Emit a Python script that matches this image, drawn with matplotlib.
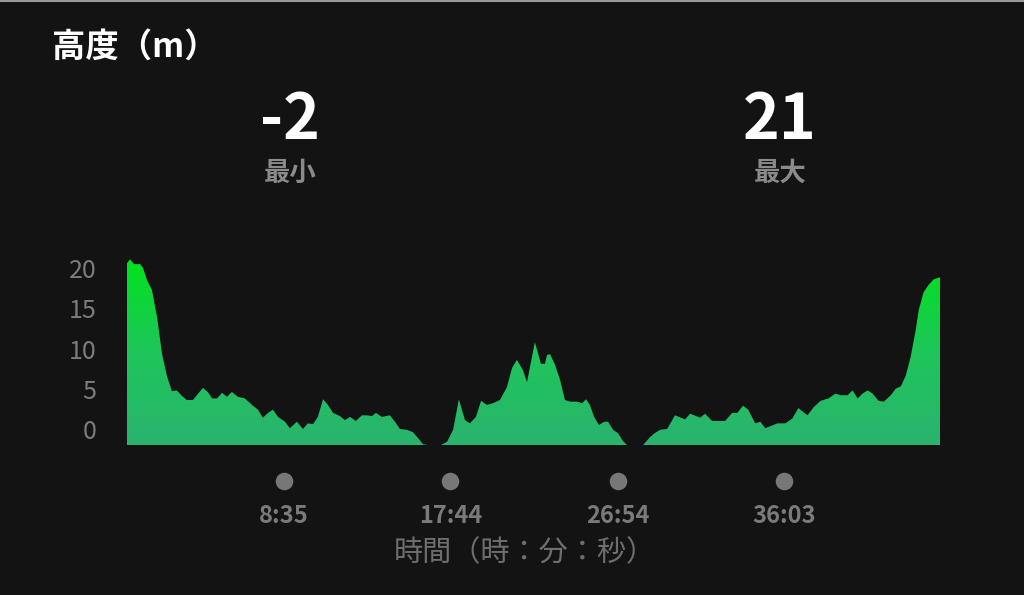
import numpy as np
import matplotlib.pyplot as plt
from matplotlib.colors import LinearSegmentedColormap
from matplotlib.transforms import blended_transform_factory

# elapsed time (seconds) and elevation (m)
secs = [0, 10, 23, 43, 53, 66, 82, 99, 115, 132, 148, 164, 181, 197, 217, 234,
        250, 266, 280, 296, 313, 329, 345, 365, 388, 411, 431, 447, 464, 480,
        497, 520, 536, 559, 579, 595, 612, 628, 645, 661, 678, 701, 717, 734,
        753, 773, 790, 806, 819, 839, 865, 882, 898, 921, 941, 957, 974, 990,
        1013, 1033, 1053, 1073, 1092, 1112, 1128, 1148, 1165, 1184, 1204, 1227,
        1250, 1267, 1283, 1303, 1316, 1342, 1362, 1375, 1382, 1392, 1408, 1425,
        1441, 1458, 1481, 1497, 1510, 1523, 1537, 1553, 1570, 1583, 1599, 1615,
        1632, 1645, 1671, 1698, 1721, 1737, 1754, 1777, 1803, 1836, 1853, 1886,
        1902, 1925, 1968, 1991, 2008, 2027, 2044, 2067, 2084, 2100, 2127, 2140,
        2166, 2189, 2209, 2239, 2259, 2282, 2308, 2331, 2348, 2371, 2387, 2404,
        2420, 2437, 2453, 2473, 2490, 2513, 2529, 2546, 2562, 2578, 2595, 2605,
        2621, 2637, 2654, 2677]
elev = [20.6, 21.1, 20.5, 20.5, 20.0, 18.5, 17.3, 13.9, 9.4, 6.5, 4.7, 4.8, 4.1,
        3.6, 3.6, 4.4, 5.1, 4.6, 3.8, 3.8, 4.5, 4.0, 4.6, 4.0, 3.8, 3.0, 2.4,
        1.4, 2.0, 2.4, 1.5, 0.9, 0.1, 0.9, 0.0, 0.7, 0.6, 1.5, 3.7, 3.0, 2.0,
        1.6, 1.1, 1.5, 1.0, 1.7, 1.7, 1.6, 2.0, 1.5, 1.7, 0.9, 0.0, -0.1, -0.4,
        -1.1, -1.9, -2.0, -2.0, -2.0, -1.6, -0.1, 3.7, 1.1, 0.7, 1.5, 3.5, 3.0,
        3.2, 3.6, 5.2, 7.6, 8.6, 7.3, 5.8, 10.8, 8.1, 8.1, 9.2, 9.3, 8.0, 6.1,
        3.6, 3.4, 3.4, 3.2, 3.7, 3.0, 1.5, 0.5, 0.9, 0.9, -0.1, -0.5, -1.5,
        -2.0, -2.0, -2.0, -1.0, -0.5, -0.1, 0.0, 1.7, 1.2, 1.9, 1.4, 1.9, 1.0,
        1.0, 2.0, 2.0, 2.9, 2.4, 0.7, 0.9, 0.1, 0.5, 0.7, 0.7, 1.3, 2.6, 1.7,
        2.7, 3.5, 3.8, 4.4, 4.2, 4.2, 4.8, 3.8, 4.4, 4.8, 4.4, 3.5, 3.4, 4.2,
        5.0, 5.3, 6.6, 8.9, 12.3, 14.8, 17.0, 17.9, 18.6, 18.9]

yticks = [0, 5, 10, 15, 20]
tick_secs = [515, 1064, 1614, 2163]
tick_labels = ['8:35', '17:44', '26:54', '36:03']
min_val, max_val = '-2', '21'

bg = '#131313'
fonts = ['Noto Sans CJK JP', 'DejaVu Sans']
plt.rcParams['font.family'] = fonts

fig = plt.figure(figsize=(10.24, 5.95), dpi=100, facecolor=bg)
ax = fig.add_axes([0.124, 0.252, 0.794, 0.3244])
ax.set_facecolor(bg)

ymin, ymax = -2, 22
ax.set_xlim(0, 2675)
ax.set_ylim(ymin, ymax)

# gradient fill clipped to the area polygon
poly = ax.fill_between(secs, elev, ymin, color='none', lw=0)
cmap = LinearSegmentedColormap.from_list('g', ['#2ab36e', '#1ec65a', '#00e31c'])
grad = np.linspace(0, 1, 256).reshape(-1, 1)
img = ax.imshow(grad, cmap=cmap, aspect='auto', origin='lower',
                extent=[0, 2675, ymin, 21.3], zorder=2)
img.set_clip_path(poly.get_paths()[0], transform=ax.transData)

for s in ax.spines.values():
    s.set_visible(False)
ax.set_xticks([])
ax.set_yticks(yticks)
ax.set_yticklabels([str(v) for v in yticks], fontsize=18, color='#7c7c7c')
ax.tick_params(axis='y', length=0, pad=22)

# time ticks as dots
tr = blended_transform_factory(ax.transData, ax.transAxes)
ax.scatter(tick_secs, [-0.187] * len(tick_secs), s=160, color='#777777',
           transform=tr, clip_on=False, lw=0)
for t, lab in zip(tick_secs, tick_labels):
    ax.text(t, -0.365, lab, transform=tr, ha='center', va='center',
            fontsize=17, color='#7a7a7a', fontweight='bold')

fig.text(525 / 1024, 1 - 553 / 595, '時間（時：分：秒）', ha='center', va='center',
         fontsize=21, color='#6e6e6e')

# header
fig.text(52 / 1024, 1 - 47 / 595, '高度（m）', ha='left', va='center',
         fontsize=24, color='white', fontweight='bold')
fig.text(290 / 1024, 1 - 121 / 595, min_val, ha='center', va='center',
         fontsize=45, color='white', fontweight='bold')
fig.text(290 / 1024, 1 - 173 / 595, '最小', ha='center', va='center',
         fontsize=19, color='#8a8a8a', fontweight='bold')
fig.text(780 / 1024, 1 - 121 / 595, max_val, ha='center', va='center',
         fontsize=45, color='white', fontweight='bold')
fig.text(780 / 1024, 1 - 173 / 595, '最大', ha='center', va='center',
         fontsize=19, color='#8a8a8a', fontweight='bold')

# thin light border along the top edge
fig.add_artist(plt.Line2D([0, 1], [0.998, 0.998], transform=fig.transFigure,
                          color='#9a9a9a', lw=1.5))

fig.savefig('out.png', dpi=100, facecolor=bg)
